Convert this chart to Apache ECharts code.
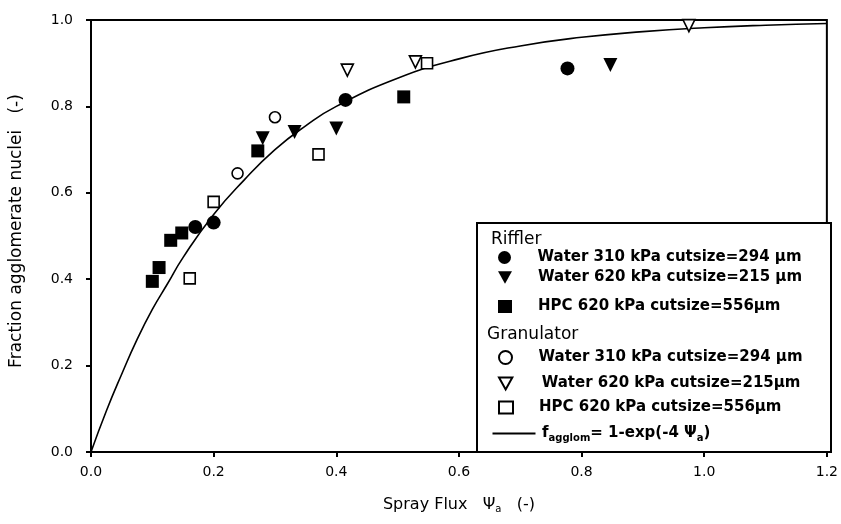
<!DOCTYPE html>
<html>
<head>
<meta charset="utf-8">
<script src="https://cdn.jsdelivr.net/npm/echarts@6/dist/echarts.min.js"></script>
<style>html,body{margin:0;padding:0;background:#fff}#c{width:841px;height:524px}</style>
</head>
<body>
<div id="c"></div>
<script>
// ---- data ----
var xTicks = [0.0, 0.2, 0.4, 0.6, 0.8, 1.0, 1.2];
var yTicks = [0.0, 0.2, 0.4, 0.6, 0.8, 1.0];

var rifWater310X = [0.170, 0.200, 0.415, 0.777];
var rifWater310Y = [0.521, 0.531, 0.815, 0.888];

var rifWater620X = [0.280, 0.332, 0.400, 0.847];
var rifWater620Y = [0.726, 0.741, 0.749, 0.896];

var rifHpcX = [0.100, 0.111, 0.130, 0.148, 0.272, 0.510];
var rifHpcY = [0.395, 0.427, 0.490, 0.507, 0.697, 0.822];

var granWater310X = [0.239, 0.300];
var granWater310Y = [0.645, 0.775];

var granWater620X = [0.418, 0.529, 0.975];
var granWater620Y = [0.884, 0.903, 0.987];

var granHpcX = [0.161, 0.200, 0.371, 0.548];
var granHpcY = [0.402, 0.579, 0.689, 0.900];

var curveX = [0, 0.025, 0.05, 0.075, 0.1, 0.125, 0.15, 0.2, 0.25, 0.3, 0.35, 0.4, 0.5, 0.6, 0.7, 0.8, 0.9, 1.0, 1.1, 1.2];
var curveY = [0, 0.095, 0.18, 0.26, 0.33, 0.39, 0.45, 0.55, 0.63, 0.70, 0.755, 0.80, 0.865, 0.91, 0.94, 0.96, 0.973, 0.982, 0.988, 0.992];

var names = {
  rw310: 'Riffler Water 310',
  rw620: 'Riffler Water 620',
  rhpc: 'Riffler HPC 620',
  gw310: 'Granulator Water 310',
  gw620: 'Granulator Water 620',
  ghpc: 'Granulator HPC 620',
  fit: 'fit'
};
var labels = {};
labels[names.rw310] = 'Water 310 kPa cutsize=294 µm';
labels[names.rw620] = 'Water 620 kPa cutsize=215 µm';
labels[names.rhpc] = 'HPC 620 kPa cutsize=556µm';
labels[names.gw310] = 'Water 310 kPa cutsize=294 µm';
labels[names.gw620] = 'Water 620 kPa cutsize=215µm';
labels[names.ghpc] = 'HPC 620 kPa cutsize=556µm';
labels[names.fit] = 'f{sub|agglom}= 1-exp(-4 Ψ{sub|a})';

function pairs(xs, ys) { return xs.map(function (x, i) { return [x, ys[i]]; }); }

var FONT = 'DejaVu Sans';
var filled = { color: '#000', opacity: 1 };
var open = { color: '#fff', borderColor: '#000', borderWidth: 1.6, opacity: 1 };
var DOWN_TRI = 'path://M0,0L10,0L5,9Z';

function scatter(name, xs, ys, symbol, size, style, rot) {
  return {
    name: name, type: 'scatter', data: pairs(xs, ys),
    symbol: symbol, symbolSize: size, symbolRotate: rot || 0,
    itemStyle: style, clip: false, z: 3,
    emphasis: { disabled: true }
  };
}

var legendText = { fontFamily: FONT, fontSize: 15, fontWeight: 'bold', color: '#000',
  rich: { sub: { fontFamily: FONT, fontSize: 10, fontWeight: 'bold', verticalAlign: 'bottom', padding: [9, 0, 0, 0] } } };

function leg(item, cy, iconCx, iw, ih, textX) {
  var left = iconCx - iw / 2;
  return {
    show: true, orient: 'vertical', left: left, top: cy - 8, padding: 0,
    itemWidth: iw, itemHeight: ih, data: [item], selectedMode: false,
    formatter: function (n) { return labels[n]; },
    textStyle: Object.assign({}, legendText, { padding: [0, 0, 0, textX - (left + iw + 5)] })
  };
}

var chart = echarts.init(document.getElementById('c'), null, { renderer: 'canvas' });
chart.setOption({
  animation: false,
  backgroundColor: '#fff',
  grid: { left: 90, right: 10, top: 20, bottom: 72, show: true, borderColor: '#000', borderWidth: 2, backgroundColor: 'transparent' },
  xAxis: {
    type: 'value', min: xTicks[0], max: xTicks[xTicks.length - 1], interval: 0.2,
    splitLine: { show: false },
    axisLine: { lineStyle: { color: '#000', width: 2 } },
    axisTick: { show: true, length: 5, lineStyle: { color: '#000', width: 2 } },
    axisLabel: { margin: 13, color: '#000', fontFamily: FONT, fontSize: 14, formatter: function (v) { return v.toFixed(1); } },
    name: 'Spray Flux   Ψ{sub|a}   (-)', nameLocation: 'middle', nameGap: 43,
    nameTextStyle: { fontFamily: FONT, fontSize: 16, color: '#000',
      rich: { sub: { fontFamily: FONT, fontSize: 10, verticalAlign: 'bottom', padding: [9, 0, 0, 0] } } }
  },
  yAxis: {
    type: 'value', min: yTicks[0], max: yTicks[yTicks.length - 1], interval: 0.2,
    splitLine: { show: false },
    axisLine: { lineStyle: { color: '#000', width: 2 } },
    axisTick: { show: true, length: 5, lineStyle: { color: '#000', width: 2 } },
    axisLabel: { margin: 18, color: '#000', fontFamily: FONT, fontSize: 14, formatter: function (v) { return v.toFixed(1); } },
    name: 'Fraction agglomerate nuclei   (-)', nameLocation: 'middle', nameGap: 66,
    nameTextStyle: { fontFamily: FONT, fontSize: 17, color: '#000', padding: [0, 0, 0, 10] }
  },
  legend: [
    leg(names.rw310, 258, 505, 14, 13, 538),
    leg({ name: names.rw620, icon: DOWN_TRI }, 278, 505, 14, 13, 538),
    leg(names.rhpc, 307, 505, 14, 13, 538),
    leg(names.gw310, 358, 505, 14, 13, 538),
    leg({ name: names.gw620, icon: DOWN_TRI }, 384, 505, 14, 12, 541),
    leg(names.ghpc, 408, 505, 14, 12, 538),
    leg({ name: names.fit, itemStyle: { opacity: 0, borderWidth: 0 } }, 434, 513, 43, 13, 541)
  ],
  graphic: [
    { type: 'rect', shape: { x: 477, y: 223, width: 354, height: 229 }, style: { fill: '#fff', stroke: '#000', lineWidth: 2 }, z: 0, silent: true },
    { type: 'text', left: 491, top: 231, style: { text: 'Riffler', fontFamily: FONT, fontSize: 17, fill: '#000' }, z: 10 },
    { type: 'text', left: 487, top: 326, style: { text: 'Granulator', fontFamily: FONT, fontSize: 17, fill: '#000' }, z: 10 }
  ],
  series: [
    { name: names.fit, type: 'line', data: pairs(curveX, curveY), smooth: true, symbol: 'none',
      lineStyle: { color: '#000', width: 1.6 }, itemStyle: { color: '#000' }, z: 2, emphasis: { disabled: true } },
    scatter(names.rw310, rifWater310X, rifWater310Y, 'circle', 14, filled),
    scatter(names.rw620, rifWater620X, rifWater620Y, 'triangle', 14, filled, 180),
    scatter(names.rhpc, rifHpcX, rifHpcY, 'rect', 13, filled),
    scatter(names.gw310, granWater310X, granWater310Y, 'circle', 11, open),
    scatter(names.gw620, granWater620X, granWater620Y, 'triangle', 12, open, 180),
    scatter(names.ghpc, granHpcX, granHpcY, 'rect', 11, open)
  ]
});
</script>
</body>
</html>
